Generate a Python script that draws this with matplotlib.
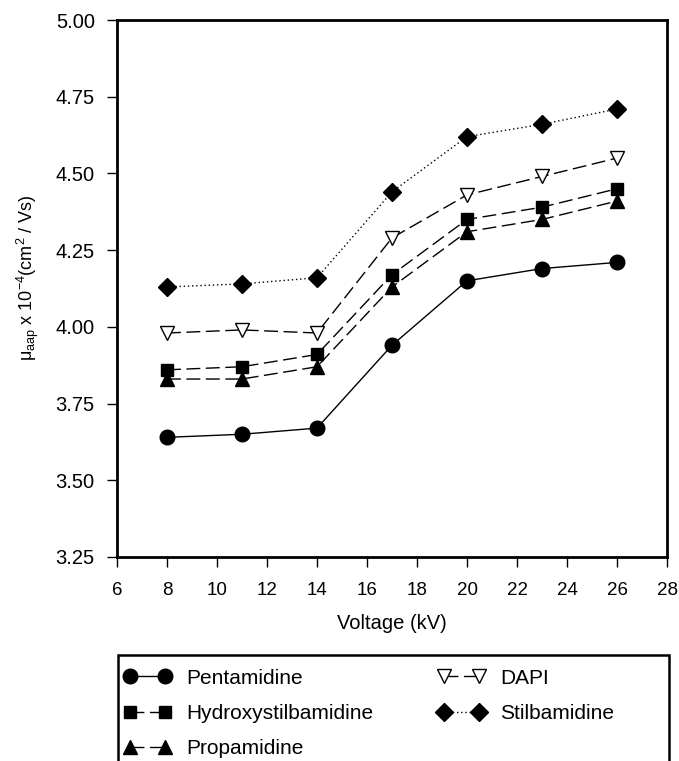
import matplotlib
matplotlib.use("Agg")
import matplotlib.pyplot as plt
from matplotlib.patches import Rectangle

plt.rcParams['font.family'] = ['Liberation Sans', 'DejaVu Sans']
plt.rcParams['mathtext.fontset'] = 'custom'
plt.rcParams['mathtext.rm'] = 'Liberation Sans'
plt.rcParams['mathtext.it'] = 'Liberation Sans'

voltage = [8, 11, 14, 17, 20, 23, 26]
pentamidine = [3.64, 3.65, 3.67, 3.94, 4.15, 4.19, 4.21]
hydroxystilbamidine = [3.86, 3.87, 3.91, 4.17, 4.35, 4.39, 4.45]
propamidine = [3.83, 3.83, 3.87, 4.13, 4.31, 4.35, 4.41]
dapi = [3.98, 3.99, 3.98, 4.29, 4.43, 4.49, 4.55]
stilbamidine = [4.13, 4.14, 4.16, 4.44, 4.62, 4.66, 4.71]

fig = plt.figure(figsize=(6.79, 7.61), dpi=100)
ax = fig.add_axes([117 / 679, 1 - 557 / 761, 550 / 679, 537 / 761])

dash = (0, (10, 4))
ax.plot(voltage, pentamidine, '-', color='black', lw=1, marker='o', ms=10.5, label='Pentamidine')
ax.plot(voltage, hydroxystilbamidine, color='black', lw=1, ls=dash, marker='s', ms=9, label='Hydroxystilbamidine')
ax.plot(voltage, propamidine, color='black', lw=1, ls=dash, marker='^', ms=9.5, label='Propamidine')
ax.plot(voltage, dapi, color='black', lw=1, ls=dash, marker='v', ms=10, mfc='white', label='DAPI')
ax.plot(voltage, stilbamidine, color='black', lw=1, ls=(0, (1, 2)), marker='D', ms=9, label='Stilbamidine')

ax.set_xlim(6, 28)
ax.set_ylim(3.25, 5.0)
ax.set_xticks(range(6, 29, 2))
ax.set_yticks([3.25, 3.5, 3.75, 4.0, 4.25, 4.5, 4.75, 5.0])
ax.yaxis.set_major_formatter(matplotlib.ticker.FormatStrFormatter('%.2f'))
ax.tick_params(direction='out', length=7, width=1)
ax.tick_params(axis='x', pad=11, labelsize=13.5)
ax.tick_params(axis='y', pad=9, labelsize=14.5)
for s in ax.spines.values():
    s.set_linewidth(2)

ax.set_xlabel('Voltage (kV)', fontsize=14.5, labelpad=11)
ax.set_ylabel(r'$\mu_{aap}$ x 10$^{-4}$(cm$^2$ / Vs)', fontsize=13, labelpad=10.5)
ax.yaxis.label.set_y(0.52)

# legend box, bottom edge runs off the figure
fig.patches.append(Rectangle((118 / 679, -0.05), 551 / 679, 0.05 + 1 - 655 / 761,
                             transform=fig.transFigure, fill=False, lw=1.8, ec='black'))
handles, labels = ax.get_legend_handles_labels()
leg = fig.legend(handles, labels, loc='upper left', bbox_to_anchor=(105 / 679, 1 - 650 / 761),
                 ncol=2, numpoints=2, frameon=False, fontsize=15, handlelength=2.28,
                 columnspacing=3.1, labelspacing=0.77, handletextpad=0.72)

fig.savefig('out.png', dpi=100)
